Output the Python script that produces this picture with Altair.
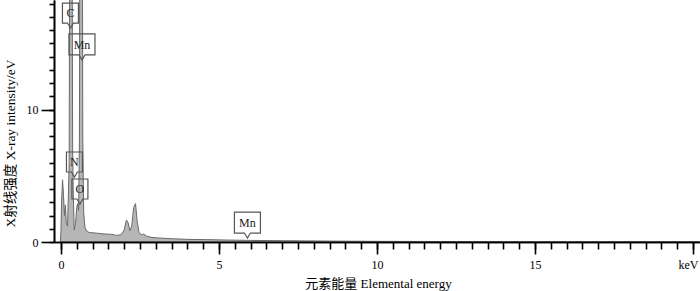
import altair as alt
import pandas as pd

# spectrum (energy in keV, intensity)
energy = [-0.02, 0.0, 0.02, 0.05, 0.08, 0.11, 0.14, 0.17, 0.21, 0.26, 0.285, 0.345, 0.37,
          0.39, 0.42, 0.46, 0.50, 0.53, 0.56, 0.585, 0.60, 0.675, 0.69, 0.72, 0.76, 0.82,
          0.9, 1.0, 1.2, 1.4, 1.6, 1.75, 1.9, 2.0, 2.07, 2.12, 2.18, 2.24, 2.3, 2.36, 2.41,
          2.47, 2.55, 2.62, 2.7, 2.85, 3.1, 3.5, 4.0, 4.6, 5.2, 6.0, 7.0, 8.5, 10, 13, 16, 20.2]
intensity = [0, 0.8, 3.0, 4.7, 3.6, 2.0, 2.8, 1.4, 1.2, 6, 30, 30, 7,
             3.6, 0.9, 1.4, 2.6, 2.9, 2.4, 8, 30, 30, 8, 2.2, 1.1, 0.8,
             0.72, 0.7, 0.65, 0.6, 0.58, 0.5, 0.55, 0.9, 1.65, 1.5, 0.85, 1.2, 2.6, 2.9, 1.6,
             0.7, 0.55, 0.6, 0.45, 0.35, 0.3, 0.25, 0.2, 0.18, 0.15, 0.12, 0.1, 0.07, 0.05, 0.03, 0.02, 0.02]

# peak labels
label_text = ["C", "Mn", "N", "O", "Mn"]
label_energy = [0.30, 0.665, 0.427, 0.60, 5.90]
label_intensity = [16.16, 13.75, 4.91, 2.87, 0.30]
label_kind = ["s", "w", "s", "s", "w"]

x_major = [0, 5, 10, 15, 20]
x_minor = [i * 0.5 for i in range(0, 41)]
y_major = [0, 10]
y_minor = list(range(0, 19))

spec = pd.DataFrame({"energy": energy, "intensity": intensity})
labels = pd.DataFrame({"text": label_text, "energy": label_energy,
                       "intensity": label_intensity, "kind": label_kind})

SERIF = "'Liberation Serif', 'Noto Sans CJK SC', serif"

xs = alt.Scale(domain=[-0.22, 20.22], nice=False, zero=False)
ys = alt.Scale(domain=[0, 18.28], nice=False)

major_x = alt.Axis(values=x_major, tickSize=12, labelPadding=5, labelFontSize=12,
                   labelFont=SERIF, labelColor="black",
                   labelExpr="datum.value == 20 ? 'keV' : datum.label",
                   labelOffset={"condition": {"test": "datum.value == 20", "value": -5}, "value": 0},
                   title="元素能量 Elemental energy", titleFont=SERIF, titleFontSize=13,
                   titleFontWeight="normal", titleColor="black", titleX=324, titleY=41,
                   titleBaseline="middle", titleAlign="center", orient="bottom", grid=False,
                   zindex=2, labelFlush=False, labelOverlap=False, labelBound=False)
minor_x = alt.Axis(values=x_minor, tickSize=7, labels=False, title=None, orient="bottom",
                   grid=False, zindex=2)
major_y = alt.Axis(values=y_major, tickSize=13, labelPadding=3, labelFontSize=12,
                   labelFont=SERIF, labelColor="black",
                   title="X射线强度 X-ray intensity/eV", titleFont=SERIF, titleFontSize=13.5,
                   titleFontWeight="normal", titleColor="black", titleX=-44, titleY=143,
                   titleBaseline="middle", titleAlign="center", titleAngle=-90,
                   orient="left", grid=False, zindex=2, labelFlush=False)
minor_y = alt.Axis(values=y_minor, tickSize=5, labels=False, title=None, orient="left",
                   grid=False, zindex=2)

area = alt.Chart(spec).mark_area(
    clip=True, color="#b6b6b6", stroke="#6a6a6a", strokeWidth=1, interpolate="linear"
).encode(
    x=alt.X("energy:Q", scale=xs, axis=major_x),
    y=alt.Y("intensity:Q", scale=ys, axis=major_y),
)

minor = alt.Chart(spec).mark_area(opacity=0, clip=True).encode(
    x=alt.X("energy:Q", scale=xs, axis=minor_x),
    y=alt.Y("intensity:Q", scale=ys, axis=minor_y),
)

path_s = "M0,0 L-3,-5 L-8,-5 L-8,-25 L8,-25 L8,-5 L3,-5 Z"
path_w = "M0,0 L-3,-5 L-13,-5 L-13,-26 L13,-26 L13,-5 L3,-5 Z"

boxes = alt.Chart(labels).mark_point(
    filled=False, color="#555555", strokeWidth=1.2, opacity=1, size=4
).encode(
    x=alt.X("energy:Q", scale=xs, axis=None),
    y=alt.Y("intensity:Q", scale=ys, axis=None),
    shape=alt.Shape("kind:N", scale=alt.Scale(domain=["s", "w"], range=[path_s, path_w]),
                    legend=None),
)

texts = alt.Chart(labels).mark_text(
    font=SERIF, fontSize=12, color="#222222", dy=-15, baseline="middle", align="center"
).encode(
    x=alt.X("energy:Q", scale=xs, axis=None),
    y=alt.Y("intensity:Q", scale=ys, axis=None),
    text="text:N",
)

chart = alt.layer(minor, area, boxes, texts).resolve_axis(
    x="independent", y="independent"
).properties(
    width=646, height=242,
    padding={"left": 54, "top": 0, "right": 0, "bottom": 49},
    autosize=alt.AutoSizeParams(type="none"),
    background="white",
).configure_view(stroke=None).configure_axis(
    domainColor="black", domainWidth=1.6, tickColor="black", tickWidth=1.6
)

chart.save("out.html", embed_options={"renderer": "svg", "actions": False})
